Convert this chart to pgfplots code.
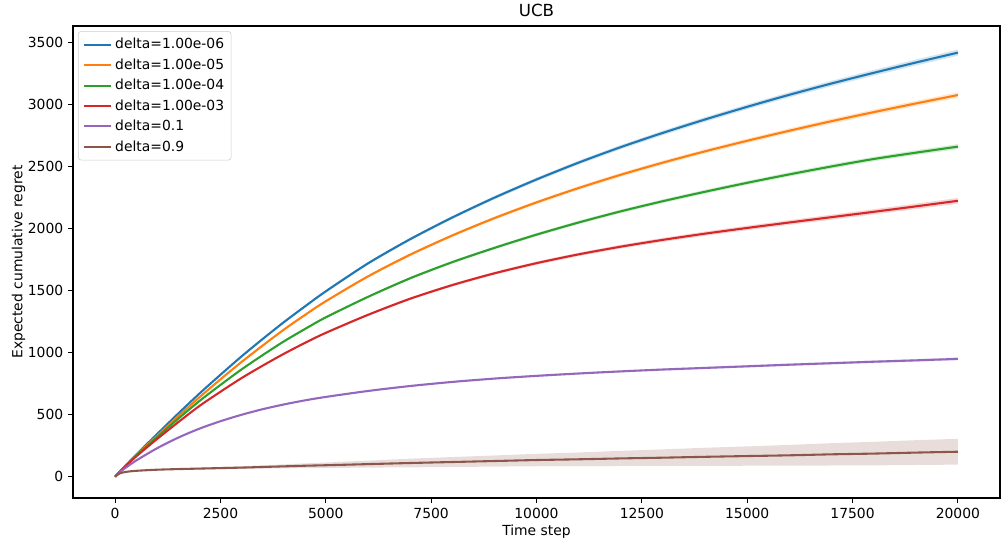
\documentclass[border=0pt]{standalone}
\usepackage{fontspec}
\setmainfont{DejaVu Sans}
\usepackage{pgfplots}
\usepackage{pgfplotstable}
\pgfplotsset{compat=1.18}
\usepgfplotslibrary{fillbetween}

\definecolor{cB}{HTML}{1F77B4}
\definecolor{cO}{HTML}{FF7F0E}
\definecolor{cG}{HTML}{2CA02C}
\definecolor{cR}{HTML}{D62728}
\definecolor{cP}{HTML}{9467BD}
\definecolor{cBr}{HTML}{8C564B}

% mean cumulative regret and half-width of the spread, per delta
\pgfplotstableread{
t     b     bs  o     os  g     gs  r     rs  p    ps  br   brs
0     0     0   0     0   0     0   0     0   0    0   0    0
100   36    1   36    1   35    1   35    1   32   1   25   1
250   90    2   89    2   87    2   85    2   72   1   38   1
500   178   2   175   2   170   2   163   2   130  1   47   2
1000  345   4   330   4   320   3   305   3   230  2   56   5
1500  510   5   488   5   468   4   440   4   315  2   61   6
2000  670   6   640   5   610   5   570   5   387  3   65   8
2500  822   7   785   6   740   6   685   6   447  3   69   10
3000  970   8   925   7   865   6   795   6   499  4   73   11
3500  1110  8   1057  7   980   7   895   6   544  4   78   13
4000  1245  9   1185  8   1090  7   990   7   582  5   83   16
4500  1372  9   1303  8   1190  8   1078  7   615  5   88   19
5000  1495  10  1415  9   1285  8   1160  8   643  5   92   22
6000  1720  11  1615  10  1450  9   1305  9   691  6   101  28
7000  1915  12  1790  11  1600  10  1435  10  731  6   110  35
8000  2090  13  1945  12  1730  11  1545  11  764  7   118  40
9000  2250  14  2085  13  1845  12  1640  12  791  7   126  45
10000 2397  15  2212  14  1952  13  1722  13  813  8   134  50
11000 2533  16  2328  15  2050  14  1793  14  832  8   140  55
12000 2658  17  2435  16  2140  14  1855  15  849  8   147  61
13000 2773  18  2533  16  2222  15  1910  16  864  9   153  67
14000 2881  19  2624  17  2298  16  1960  17  877  9   160  73
15000 2983  20  2709  18  2370  16  2006  18  890  10  166  78
16000 3080  21  2790  19  2438  17  2050  19  903  10  172  84
17000 3171  22  2867  20  2502  18  2093  20  915  10  180  90
18000 3257  23  2940  21  2562  18  2136  21  927  11  186  95
19000 3340  24  3010  21  2613  19  2180  22  938  11  194  100
20000 3420  25  3078  22  2662  20  2225  23  950  12  201  104
}\regret

\begin{document}
\fontsize{10}{12}\selectfont
\begin{tikzpicture}
\begin{axis}[
  width=667.4pt, height=339.8pt, scale only axis,
  xmin=-1000, xmax=21000,
  ymin=-172, ymax=3635,
  xtick={0,2500,...,20000},
  ytick={0,500,...,3500},
  scaled x ticks=false, scaled y ticks=false,
  xtick pos=left, ytick pos=left,
  tick align=outside,
  major tick length=3.5pt,
  every tick/.style={black, line width=0.8pt},
  axis line style={line width=0.8pt},
  /pgf/number format/.cd, 1000 sep={}, assume math mode=true,
  /pgfplots/.cd,
  ticklabel style={font=\fontsize{10}{12}\selectfont},
  label style={font=\fontsize{10}{12}\selectfont},
  title style={font=\fontsize{12}{14}\selectfont, yshift=-3pt},
  title={UCB},
  xlabel={Time step},
  ylabel={Expected cumulative regret},
  ylabel style={yshift=-5pt},
  xlabel style={yshift=2pt},
  legend cell align=left,
  legend image code/.code={\draw[#1] (0pt,0pt) -- (20pt,0pt);},
  legend style={
    at={(0.0055,0.989)}, anchor=north west,
    draw=black!20, rounded corners=2pt,
    fill=white, fill opacity=0.8, text opacity=1,
    font=\fontsize{10}{12}\selectfont,
    inner xsep=3pt, inner ysep=3pt,
    row sep=1.6pt,
  },
  every axis plot/.append style={line width=1.5pt},
]
% spread bands
\addplot[draw=none, name path=bU, forget plot] table[x=t, y expr=\thisrow{b}+\thisrow{bs}] {\regret};
\addplot[draw=none, name path=bL, forget plot] table[x=t, y expr=\thisrow{b}-\thisrow{bs}] {\regret};
\addplot[fill=cB, fill opacity=0.2, draw=none, forget plot] fill between[of=bU and bL];
\addplot[draw=none, name path=oU, forget plot] table[x=t, y expr=\thisrow{o}+\thisrow{os}] {\regret};
\addplot[draw=none, name path=oL, forget plot] table[x=t, y expr=\thisrow{o}-\thisrow{os}] {\regret};
\addplot[fill=cO, fill opacity=0.2, draw=none, forget plot] fill between[of=oU and oL];
\addplot[draw=none, name path=gU, forget plot] table[x=t, y expr=\thisrow{g}+\thisrow{gs}] {\regret};
\addplot[draw=none, name path=gL, forget plot] table[x=t, y expr=\thisrow{g}-\thisrow{gs}] {\regret};
\addplot[fill=cG, fill opacity=0.2, draw=none, forget plot] fill between[of=gU and gL];
\addplot[draw=none, name path=rU, forget plot] table[x=t, y expr=\thisrow{r}+\thisrow{rs}] {\regret};
\addplot[draw=none, name path=rL, forget plot] table[x=t, y expr=\thisrow{r}-\thisrow{rs}] {\regret};
\addplot[fill=cR, fill opacity=0.2, draw=none, forget plot] fill between[of=rU and rL];
\addplot[draw=none, name path=pU, forget plot] table[x=t, y expr=\thisrow{p}+\thisrow{ps}] {\regret};
\addplot[draw=none, name path=pL, forget plot] table[x=t, y expr=\thisrow{p}-\thisrow{ps}] {\regret};
\addplot[fill=cP, fill opacity=0.2, draw=none, forget plot] fill between[of=pU and pL];
\addplot[draw=none, name path=brU, forget plot] table[x=t, y expr=\thisrow{br}+\thisrow{brs}] {\regret};
\addplot[draw=none, name path=brL, forget plot] table[x=t, y expr=\thisrow{br}-\thisrow{brs}] {\regret};
\addplot[fill=cBr, fill opacity=0.2, draw=none, forget plot] fill between[of=brU and brL];

% mean curves
\addplot[cB, smooth]  table[x=t, y=b]  {\regret}; \addlegendentry{delta=1.00e-06}
\addplot[cO, smooth]  table[x=t, y=o]  {\regret}; \addlegendentry{delta=1.00e-05}
\addplot[cG, smooth]  table[x=t, y=g]  {\regret}; \addlegendentry{delta=1.00e-04}
\addplot[cR, smooth]  table[x=t, y=r]  {\regret}; \addlegendentry{delta=1.00e-03}
\addplot[cP, smooth]  table[x=t, y=p]  {\regret}; \addlegendentry{delta=0.1}
\addplot[cBr, smooth] table[x=t, y=br] {\regret}; \addlegendentry{delta=0.9}
\end{axis}
\pgfresetboundingbox
\path (current axis.south west) ++(-52.56pt,-29.52pt) coordinate (bbA);
\path (current axis.north east) ++(0.72pt,18.72pt) coordinate (bbB);
\path[use as bounding box] (bbA) rectangle (bbB);
\end{tikzpicture}
\end{document}
